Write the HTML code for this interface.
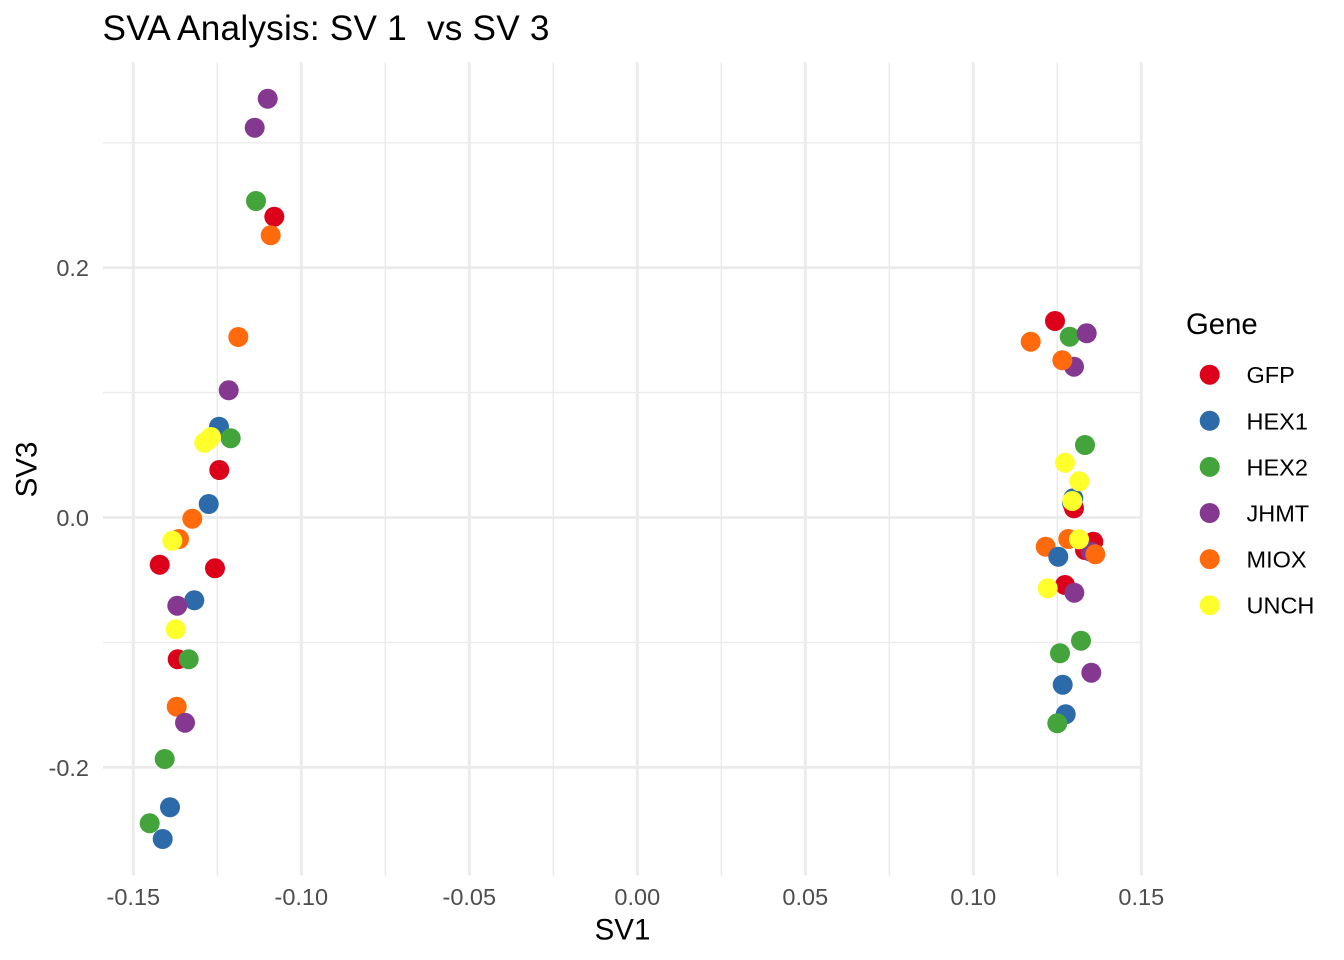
<!DOCTYPE html>
<html>
<head>
<meta charset="utf-8">
<style>
  html, body { margin: 0; padding: 0; background: #ffffff; }
  svg { display: block; }
  text { font-family: "Liberation Sans", Arial, sans-serif; }
</style>
</head>
<body>
<svg width="1344" height="960" viewBox="0 0 1344 960" xmlns="http://www.w3.org/2000/svg">
  <rect width="1344" height="960" fill="#ffffff"/>

  <!-- minor gridlines -->
  <g stroke="#EBEBEB" stroke-width="1.4">
    <line x1="217.3" y1="62" x2="217.3" y2="875.5"/>
    <line x1="385.3" y1="62" x2="385.3" y2="875.5"/>
    <line x1="553.3" y1="62" x2="553.3" y2="875.5"/>
    <line x1="721.3" y1="62" x2="721.3" y2="875.5"/>
    <line x1="889.3" y1="62" x2="889.3" y2="875.5"/>
    <line x1="1057.3" y1="62" x2="1057.3" y2="875.5"/>
    <line x1="103" y1="142.8" x2="1142" y2="142.8"/>
    <line x1="103" y1="392.6" x2="1142" y2="392.6"/>
    <line x1="103" y1="642.4" x2="1142" y2="642.4"/>
  </g>
  <!-- major gridlines -->
  <g stroke="#EBEBEB" stroke-width="2.8">
    <line x1="133.3" y1="62" x2="133.3" y2="875.5"/>
    <line x1="301.3" y1="62" x2="301.3" y2="875.5"/>
    <line x1="469.3" y1="62" x2="469.3" y2="875.5"/>
    <line x1="637.3" y1="62" x2="637.3" y2="875.5"/>
    <line x1="805.3" y1="62" x2="805.3" y2="875.5"/>
    <line x1="973.3" y1="62" x2="973.3" y2="875.5"/>
    <line x1="1141.3" y1="62" x2="1141.3" y2="875.5"/>
    <line x1="103" y1="267.7" x2="1142" y2="267.7"/>
    <line x1="103" y1="517.5" x2="1142" y2="517.5"/>
    <line x1="103" y1="767.3" x2="1142" y2="767.3"/>
  </g>

  <!-- points -->
  <g>
    <!-- GFP -->
    <g fill="#DC001A">
      <circle cx="274.3" cy="216.7" r="10"/>
      <circle cx="219.3" cy="470" r="10"/>
      <circle cx="159.7" cy="564.7" r="10"/>
      <circle cx="215" cy="568.3" r="10"/>
      <circle cx="177.7" cy="659.3" r="10"/>
      <circle cx="1055" cy="321" r="10"/>
      <circle cx="1093.3" cy="541.7" r="10"/>
      <circle cx="1085" cy="550" r="10"/>
      <circle cx="1065" cy="585" r="10"/>
    </g>
    <!-- HEX1 -->
    <g fill="#2C6AA9">
      <circle cx="219" cy="426.7" r="10"/>
      <circle cx="208.7" cy="504" r="10"/>
      <circle cx="194.3" cy="600.3" r="10"/>
      <circle cx="170" cy="807.3" r="10"/>
      <circle cx="162.7" cy="839" r="10"/>
      <circle cx="1073.3" cy="498.3" r="10"/>
      <circle cx="1072" cy="503" r="10"/>
      <circle cx="1062.7" cy="684.7" r="10"/>
      <circle cx="1065.7" cy="714.3" r="10"/>
    </g>
    <circle cx="1074" cy="508.3" r="10" fill="#DC001A"/>
    <!-- HEX2 -->
    <g fill="#42A43A">
      <circle cx="256" cy="201" r="10"/>
      <circle cx="230.7" cy="438.3" r="10"/>
      <circle cx="188.7" cy="659.3" r="10"/>
      <circle cx="164.7" cy="759" r="10"/>
      <circle cx="149.7" cy="823.3" r="10"/>
      <circle cx="1069.7" cy="336.7" r="10"/>
      <circle cx="1085" cy="445" r="10"/>
      <circle cx="1081" cy="640.7" r="10"/>
      <circle cx="1060" cy="653.3" r="10"/>
      <circle cx="1057.3" cy="723.3" r="10"/>
    </g>
    <!-- JHMT -->
    <g fill="#85388F">
      <circle cx="267.7" cy="98.7" r="10"/>
      <circle cx="254.7" cy="127.7" r="10"/>
      <circle cx="228.7" cy="390.3" r="10"/>
      <circle cx="177.3" cy="605.7" r="10"/>
      <circle cx="1086.7" cy="333.3" r="10"/>
      <circle cx="1074" cy="366.7" r="10"/>
      <circle cx="1090.7" cy="551.7" r="10"/>
      <circle cx="1074.3" cy="592.7" r="10"/>
      <circle cx="1091.3" cy="672.7" r="10"/>
    </g>
    <!-- MIOX -->
    <g fill="#FF6A0D">
      <circle cx="270.7" cy="235.3" r="10"/>
      <circle cx="238.3" cy="337" r="10"/>
      <circle cx="192.3" cy="518.7" r="10"/>
      <circle cx="179" cy="539" r="10"/>
      <circle cx="176.7" cy="706.7" r="10"/>
      <circle cx="1030.7" cy="341.7" r="10"/>
      <circle cx="1062.3" cy="360.3" r="10"/>
      <circle cx="1045.7" cy="546.7" r="10"/>
      <circle cx="1068.3" cy="539" r="10"/>
      <circle cx="1095.3" cy="554.3" r="10"/>
    </g>
    <circle cx="185" cy="722.7" r="10" fill="#85388F"/>
    <circle cx="1058.3" cy="556.7" r="10" fill="#2C6AA9"/>
    <!-- UNCH -->
    <g fill="#FFFF2B">
      <circle cx="211" cy="437" r="10"/>
      <circle cx="208" cy="440" r="10"/>
      <circle cx="204.3" cy="442.7" r="10"/>
      <circle cx="172.3" cy="540.7" r="10"/>
      <circle cx="175.7" cy="629.3" r="10"/>
      <circle cx="1065" cy="462.7" r="10"/>
      <circle cx="1079.3" cy="481.3" r="10"/>
      <circle cx="1072.3" cy="501" r="10"/>
      <circle cx="1079" cy="539.3" r="10"/>
      <circle cx="1047.7" cy="588.3" r="10"/>
    </g>
  </g>

  <!-- y tick labels -->
  <g fill="#4D4D4D" font-size="23.5" text-anchor="end">
    <text x="89" y="276">0.2</text>
    <text x="89" y="526">0.0</text>
    <text x="89" y="776">-0.2</text>
  </g>
  <!-- x tick labels -->
  <g fill="#4D4D4D" font-size="23.5" text-anchor="middle">
    <text x="133.3" y="905">-0.15</text>
    <text x="301.3" y="905">-0.10</text>
    <text x="469.3" y="905">-0.05</text>
    <text x="637.3" y="905">0.00</text>
    <text x="805.3" y="905">0.05</text>
    <text x="973.3" y="905">0.10</text>
    <text x="1141.3" y="905">0.15</text>
  </g>

  <!-- axis titles -->
  <text x="622.5" y="939.5" font-size="29.5" text-anchor="middle" fill="#000">SV1</text>
  <text transform="translate(36.5,469.5) rotate(-90)" font-size="29.5" text-anchor="middle" fill="#000">SV3</text>

  <!-- title -->
  <text x="102.5" y="40" font-size="35.2" fill="#000" xml:space="preserve" textLength="447" lengthAdjust="spacing">SVA Analysis: SV 1  vs SV 3</text>

  <!-- legend -->
  <text x="1186" y="334" font-size="29.3" fill="#000">Gene</text>
  <g>
    <circle cx="1209.7" cy="374.7" r="10" fill="#DC001A"/>
    <circle cx="1209.7" cy="420.8" r="10" fill="#2C6AA9"/>
    <circle cx="1209.7" cy="466.9" r="10" fill="#42A43A"/>
    <circle cx="1209.7" cy="513" r="10" fill="#85388F"/>
    <circle cx="1209.7" cy="559.1" r="10" fill="#FF6A0D"/>
    <circle cx="1209.7" cy="605.2" r="10" fill="#FFFF2B"/>
  </g>
  <g font-size="23.5" fill="#000">
    <text x="1246.5" y="383.2">GFP</text>
    <text x="1246.5" y="429.3">HEX1</text>
    <text x="1246.5" y="475.4">HEX2</text>
    <text x="1246.5" y="521.5">JHMT</text>
    <text x="1246.5" y="567.6">MIOX</text>
    <text x="1246.5" y="613.7">UNCH</text>
  </g>
</svg>
</body>
</html>
